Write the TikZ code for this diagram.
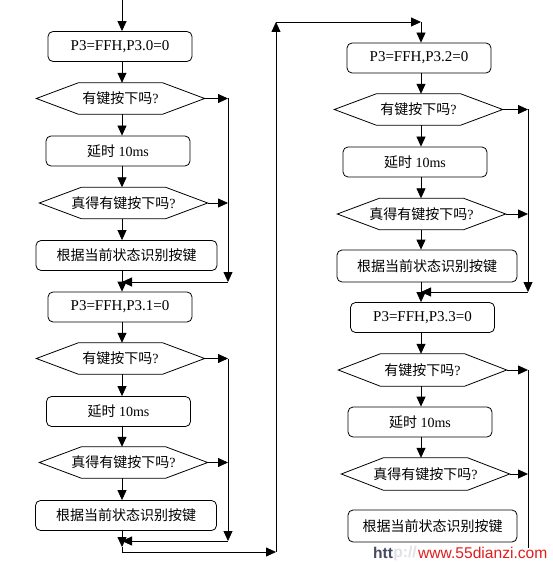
\documentclass[tikz,border=0pt]{standalone}
\usepackage{fontspec}
\setmainfont{Liberation Serif}
\newfontfamily\cjk{Noto Sans CJK SC}
\newfontfamily\wmfont{Liberation Sans}
\usetikzlibrary{arrows.meta}
\newcommand\hexoutline[1]{%
  \draw[line width=0.8pt] (#1.west) -- ([xshift=42pt]#1.north west) -- ([xshift=-42pt]#1.north east) -- (#1.east)
    -- ([xshift=-42pt]#1.south east) -- ([xshift=42pt]#1.south west) -- cycle;}
\begin{document}
\begin{tikzpicture}[x=1pt,y=-1pt,
  box/.style={draw, line width=0.8pt, rounded corners=5pt, minimum width=144pt, minimum height=30pt, inner sep=0pt, font=\fontsize{14}{16}\selectfont},
  portbox/.style={box, font=\fontsize{15}{17}\selectfont},
  widebox/.style={box, minimum width=181pt},
  hexn/.style={minimum width=168pt, minimum height=31pt, inner sep=0pt, font=\fontsize{14}{16}\selectfont},
  arr/.style={line width=0.8pt, -{Triangle[length=10pt,width=9pt]}},
  ln/.style={line width=0.8pt}]
\useasboundingbox (0,0) rectangle (552,564);
\fill[white] (0,0) rectangle (552,564);
% column guides
\coordinate (colL) at (122,0);
\coordinate (colR) at (421,0);
\coordinate (top) at (122,0);
% left column
\node[portbox] (b1) at (120,46.5) {P3=FFH,P3.0=0};
\node[hexn] (h1) at (120.5,98.5) {{\cjk 有键按下吗}?};
\node[box] (b2) at (118,151) {{\cjk 延时}\ 10ms};
\node[hexn] (h2) at (123.5,203) {{\cjk 真得有键按下吗}?};
\node[widebox] (b3) at (126.5,255.5) {\cjk 根据当前状态识别按键};
\node[portbox] (b4) at (120,307) {P3=FFH,P3.1=0};
\node[hexn] (h3) at (120.5,358.5) {{\cjk 有键按下吗}?};
\node[box] (b5) at (118.5,411.5) {{\cjk 延时}\ 10ms};
\node[hexn] (h4) at (123.5,462.5) {{\cjk 真得有键按下吗}?};
\node[widebox] (b6) at (126,515.5) {\cjk 根据当前状态识别按键};
% right column
\node[portbox] (b7) at (419,58) {P3=FFH,P3.2=0};
\node[hexn] (h5) at (418.5,109.5) {{\cjk 有键按下吗}?};
\node[box] (b8) at (415,162) {{\cjk 延时}\ 10ms};
\node[hexn] (h6) at (421.5,214) {{\cjk 真得有键按下吗}?};
\node[widebox, minimum width=180pt, minimum height=32pt] (b9) at (427,266) {\cjk 根据当前状态识别按键};
\node[portbox] (b10) at (422.5,317.5) {P3=FFH,P3.3=0};
\node[hexn, minimum height=32pt] (h7) at (422.5,370) {{\cjk 有键按下吗}?};
\node[box] (b11) at (420,422) {{\cjk 延时}\ 10ms};
\node[hexn, minimum height=32pt] (h8) at (425.5,474) {{\cjk 真得有键按下吗}?};
\node[box, minimum width=169pt, minimum height=32pt] (b12) at (432.5,526) {\cjk 根据当前状态识别按键};
\foreach \h in {h1,h2,h3,h4,h5,h6,h7,h8} {\hexoutline{\h}}
% main flow arrows
\draw[arr] (top) -- (b1.north -| colL);
\draw[arr] (b1.south -| colL) -- (h1.north -| colL);
\draw[arr] (h1.south -| colL) -- (b2.north -| colL);
\draw[arr] (b2.south -| colL) -- (h2.north -| colL);
\draw[arr] (h2.south -| colL) -- (b3.north -| colL);
\draw[arr] (b3.south -| colL) -- (b4.north -| colL);
\draw[arr] (b4.south -| colL) -- (h3.north -| colL);
\draw[arr] (h3.south -| colL) -- (b5.north -| colL);
\draw[arr] (b5.south -| colL) -- (h4.north -| colL);
\draw[arr] (h4.south -| colL) -- (b6.north -| colL);
\draw[arr] (b7.south -| colR) -- (h5.north -| colR);
\draw[arr] (h5.south -| colR) -- (b8.north -| colR);
\draw[arr] (b8.south -| colR) -- (h6.north -| colR);
\draw[arr] (h6.south -| colR) -- (b9.north -| colR);
\draw[arr] (b9.south -| colR) -- (b10.north -| colR);
\draw[arr] (b10.south -| colR) -- (h7.north -| colR);
\draw[arr] (h7.south -| colR) -- (b11.north -| colR);
\draw[arr] (b11.south -| colR) -- (h8.north -| colR);
% left return loops
\coordinate (rLa) at (228,282);
\coordinate (jL1) at (122,282);
\draw[arr] (h1.east) -- (h1.east -| rLa);
\draw[arr] (h2.east) -- (h2.east -| rLa);
\draw[arr] (h1.east -| rLa) -- (rLa);
\draw[arr] (rLa) -- (jL1);
\coordinate (rLb) at (228,541);
\coordinate (jL2) at (122,541);
\draw[arr] (h3.east) -- (h3.east -| rLb);
\draw[arr] (h4.east) -- (h4.east -| rLb);
\draw[arr] (h3.east -| rLb) -- (rLb);
\draw[arr] (rLb) -- (jL2);
% link from left column to right column
\coordinate (aL) at (122,547);
\coordinate (kL) at (122,552);
\coordinate (kM) at (276,552);
\coordinate (tM) at (276,22);
\coordinate (tR) at (421,22);
\draw[arr] (b6.south -| colL) -- (aL);
\draw[ln] (aL) -- (kL);
\draw[arr] (kL) -- (kM);
\draw[arr] (kM) -- (tM);
\draw[arr] (tM) -- (tR);
\draw[arr] (tR) -- (b7.north -| colR);
% right return loops
\coordinate (rRa) at (528,292);
\coordinate (jR1) at (421,292);
\draw[arr] (h5.east) -- (h5.east -| rRa);
\draw[arr] (h6.east) -- (h6.east -| rRa);
\draw[arr] (h5.east -| rRa) -- (rRa);
\draw[arr] (rRa) -- (jR1);
\coordinate (rRb) at (528,548);
\draw[arr] (h7.east) -- (h7.east -| rRb);
\draw[arr] (h8.east) -- (h8.east -| rRb);
\draw[ln] (h7.east -| rRb) -- (rRb);
% watermark
\node[anchor=west, inner sep=0pt, font=\wmfont\fontsize{15.6}{17}\selectfont, text={rgb,255:red,225;green,30;blue,30}] (wm) at (418,553) {www.55dianzi.com};
\node[anchor=east, inner sep=0pt, font=\wmfont\bfseries\fontsize{15.6}{17}\selectfont, text={rgb,255:red,225;green,225;blue,232}] (wmb) at ([xshift=-1pt]wm.west) {p://};
\node[anchor=east, inner sep=0pt, font=\wmfont\bfseries\fontsize{15.6}{17}\selectfont, text={rgb,255:red,70;green,75;blue,100}] (wma) at (wmb.west) {htt};
\end{tikzpicture}
\end{document}
